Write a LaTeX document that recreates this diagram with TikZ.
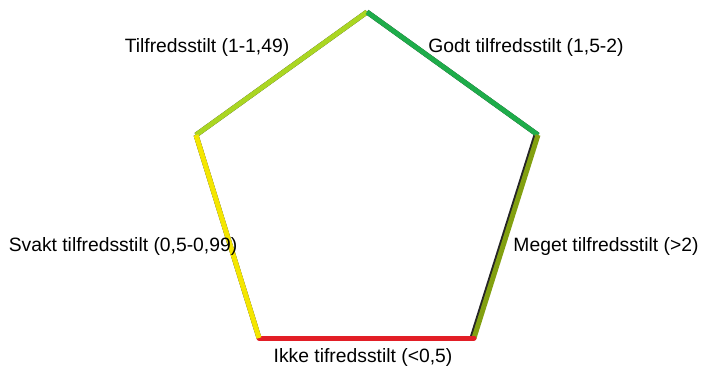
\documentclass[tikz,border=0pt]{standalone}
\usepackage{fontspec}
\setmainfont{Liberation Sans}
\definecolor{cYellow}{RGB}{244,230,0}
\definecolor{cLime}{RGB}{170,214,34}
\definecolor{cGreen}{RGB}{30,172,74}
\definecolor{cOlive}{RGB}{130,160,16}
\definecolor{cRed}{RGB}{226,30,38}
\begin{document}
\begin{tikzpicture}[x=1pt,y=-1pt,
  edgeline/.style={line width=5pt},
  shade/.style={line width=5pt,black!85,shift={(1.1,1.1)}},
  lbl/.style={font=\fontsize{19.3}{22}\selectfont,inner sep=0pt,text=black}]
\useasboundingbox (0,0) rectangle (701,374);
% pentagon corners
\coordinate (T)  at (367,12);
\coordinate (UR) at (538,135);
\coordinate (LR) at (474,338);
\coordinate (LL) at (259,338);
\coordinate (UL) at (196,135);
% dark edge beneath each coloured side
\draw[shade] (UL) -- (T);
\draw[shade] (T) -- (UR);
\draw[shade] ([xshift=-2pt]UR) -- ([xshift=-2pt]LR);
\draw[shade] (LR) -- (LL);
\draw[shade] (LL) -- (UL);
% coloured sides
\draw[edgeline,cLime] (UL) -- (T);
\draw[edgeline,cGreen] (T) -- (UR);
\draw[edgeline,cOlive] (UR) -- (LR);
\draw[edgeline,cRed,line cap=round] (LR) -- (LL);
\draw[edgeline,cYellow] (LL) -- (UL);
% labels
\node[lbl] (l1) at (207,48)  {Tilfredsstilt (1-1,49)};
\node[lbl] (l2) at (526,48)  {Godt tilfredsstilt (1,5-2)};
\node[lbl] (l3) at (123,247) {Svakt tilfredsstilt (0,5-0,99)};
\node[lbl] (l4) at (606,247) {Meget tilfredsstilt (>2)};
\node[lbl] (l5) at (363,358) {Ikke tifredsstilt (<0,5)};
\end{tikzpicture}
\end{document}
